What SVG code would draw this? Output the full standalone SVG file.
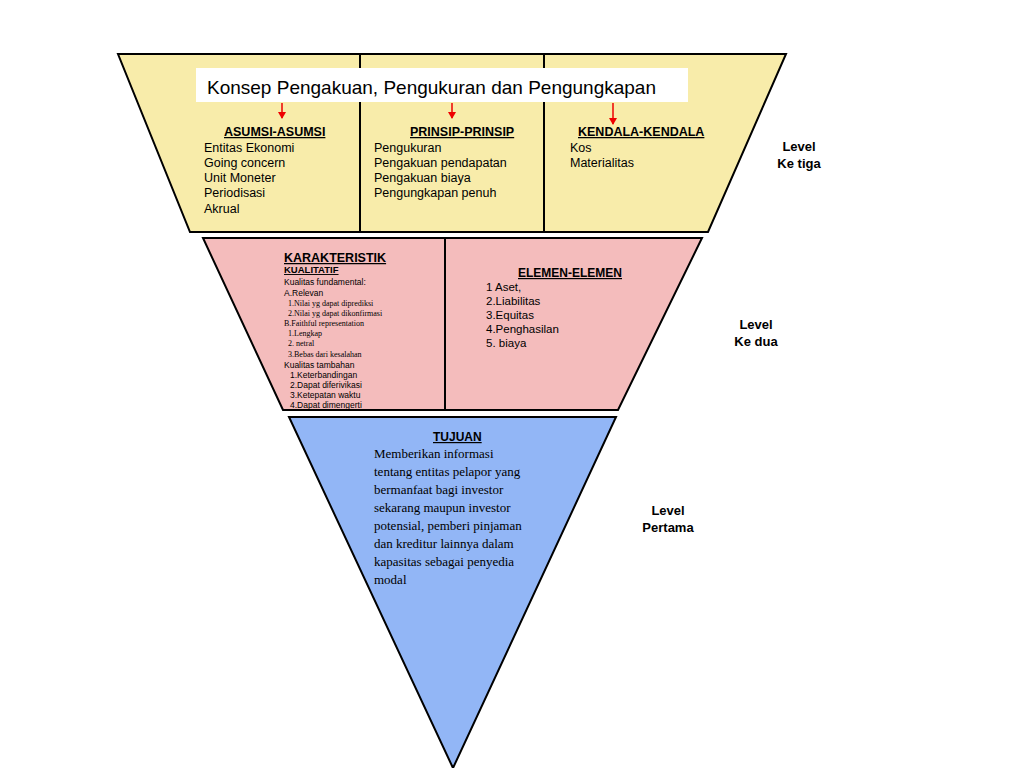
<svg xmlns="http://www.w3.org/2000/svg" width="1024" height="768" viewBox="0 0 1024 768">
<defs>
<style>
.s{font-family:"Liberation Sans",Arial,sans-serif;fill:#000}
.t{font-family:"Liberation Serif","Times New Roman",serif;fill:#000}
.h{font-weight:bold;text-decoration:underline}
.sh{stroke:#000;stroke-width:2}
</style>
<marker id="ar" markerWidth="8" markerHeight="8" refX="6" refY="4" orient="auto" markerUnits="userSpaceOnUse"><path d="M0,0 L7,4 L0,8 Z" fill="#e00"/></marker>
</defs>
<rect width="1024" height="768" fill="#fff"/>
<g id="level3">
<polygon points="118,54 786,54 708,232 190,232" fill="#f8ecaa" class="sh"/>
<line x1="360" y1="54" x2="360" y2="232" class="sh"/>
<line x1="544" y1="54" x2="544" y2="232" class="sh"/>
</g>
<g id="title">
<rect x="196" y="68" width="492" height="34" fill="#fff"/>
<text x="207" y="94" class="s" font-size="19">Konsep Pengakuan, Pengukuran dan Pengungkapan</text>
</g>
<g id="connectors" stroke="#e00" stroke-width="1.5">
<line x1="282" y1="103" x2="282" y2="118" marker-end="url(#ar)"/>
<line x1="452" y1="103" x2="452" y2="118" marker-end="url(#ar)"/>
<line x1="613" y1="103" x2="613" y2="124" marker-end="url(#ar)"/>
</g>
<g id="asumsi" font-size="12.5">
<text x="224" y="136" class="s h">ASUMSI-ASUMSI</text>
<text x="204" y="152" class="s">Entitas Ekonomi</text>
<text x="204" y="167" class="s">Going concern</text>
<text x="204" y="182" class="s">Unit Moneter</text>
<text x="204" y="197" class="s">Periodisasi</text>
<text x="204" y="213" class="s">Akrual</text>
</g>
<g id="prinsip" font-size="12.5">
<text x="410" y="136" class="s h">PRINSIP-PRINSIP</text>
<text x="374" y="152" class="s">Pengukuran</text>
<text x="374" y="167" class="s">Pengakuan pendapatan</text>
<text x="374" y="182" class="s">Pengakuan biaya</text>
<text x="374" y="197" class="s">Pengungkapan  penuh</text>
</g>
<g id="kendala" font-size="12.5">
<text x="578" y="136" class="s h">KENDALA-KENDALA</text>
<text x="570" y="152" class="s">Kos</text>
<text x="570" y="167" class="s">Materialitas</text>
</g>
<g id="lvl3" font-size="13" font-weight="bold" text-anchor="middle">
<text x="799" y="151" class="s">Level</text>
<text x="799" y="168" class="s">Ke tiga</text>
</g>
<g id="level2">
<polygon points="203,238 702,238 618,410 283,410" fill="#f4bcbc" class="sh"/>
<line x1="445" y1="238" x2="445" y2="410" class="sh"/>
</g>
<g id="karakteristik">
<text x="284" y="262" class="s h" font-size="12.5">KARAKTERISTIK</text>
<text x="284" y="273" class="s h" font-size="9.5">KUALITATIF</text>
<text x="284" y="285" class="s" font-size="8.5">Kualitas fundamental:</text>
<text x="284" y="296" class="s" font-size="8.5">A.Relevan</text>
<text x="288" y="306" class="t" font-size="8">1.Nilai  yg dapat diprediksi</text>
<text x="288" y="316" class="t" font-size="8">2.Nilai  yg dapat dikonfirmasi</text>
<text x="284" y="326" class="t" font-size="8">B.Faithful  representation</text>
<text x="288" y="336" class="t" font-size="8">1.Lengkap</text>
<text x="288" y="346" class="t" font-size="8">2.  netral</text>
<text x="288" y="357" class="t" font-size="8">3.Bebas dari kesalahan</text>
<text x="284" y="368" class="s" font-size="8.5">Kualitas tambahan</text>
<text x="290" y="378" class="s" font-size="8.5">1.Keterbandingan</text>
<text x="290" y="388" class="s" font-size="8.5">2.Dapat diferivikasi</text>
<text x="290" y="398" class="s" font-size="8.5">3.Ketepatan waktu</text>
<text x="290" y="408" class="s" font-size="8.5">4.Dapat dimengerti</text>
</g>
<g id="elemen" font-size="11.5">
<text x="518" y="277" class="s h" font-size="12">ELEMEN-ELEMEN</text>
<text x="486" y="291" class="s">1 Aset,</text>
<text x="486" y="305" class="s">2.Liabilitas</text>
<text x="486" y="319" class="s">3.Equitas</text>
<text x="486" y="333" class="s">4.Penghasilan</text>
<text x="486" y="347" class="s">5. biaya</text>
</g>
<g id="lvl2" font-size="13" font-weight="bold" text-anchor="middle">
<text x="756" y="329" class="s">Level</text>
<text x="756" y="346" class="s">Ke dua</text>
</g>
<g id="level1">
<polygon points="289,417 616,417 453,768" fill="#92b6f6" class="sh"/>
</g>
<g id="tujuan" font-size="13">
<text x="433" y="441" class="s h" font-size="12">TUJUAN</text>
<text x="374" y="458" class="t">Memberikan informasi</text>
<text x="374" y="476" class="t">tentang entitas pelapor yang</text>
<text x="374" y="494" class="t">bermanfaat bagi investor</text>
<text x="374" y="512" class="t">sekarang maupun investor</text>
<text x="374" y="530" class="t">potensial, pemberi pinjaman</text>
<text x="374" y="548" class="t">dan kreditur lainnya dalam</text>
<text x="374" y="566" class="t">kapasitas sebagai penyedia</text>
<text x="374" y="584" class="t">modal</text>
</g>
<g id="lvl1" font-size="13" font-weight="bold" text-anchor="middle">
<text x="668" y="515" class="s">Level</text>
<text x="668" y="532" class="s">Pertama</text>
</g>
</svg>
